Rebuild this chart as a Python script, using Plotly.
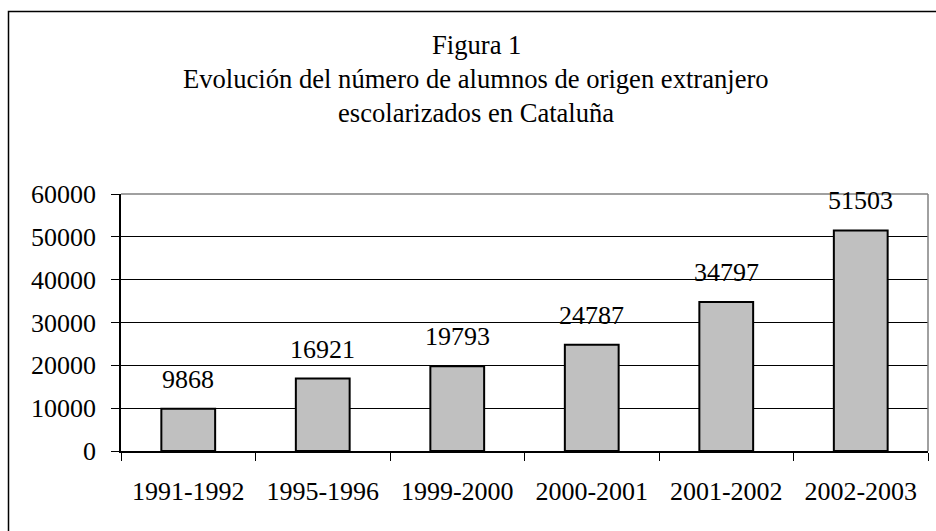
import plotly.graph_objects as go

categories = ["1991-1992", "1995-1996", "1999-2000", "2000-2001", "2001-2002", "2002-2003"]
values = [9868, 16921, 19793, 24787, 34797, 51503]
y_ticks = [0, 10000, 20000, 30000, 40000, 50000, 60000]
title_lines = ["Figura 1",
               "Evolución del número de alumnos de origen extranjero",
               "escolarizados en Cataluña"]

FONT = "Liberation Serif, Times New Roman, serif"
W, H = 936, 531
L, R, T, B = 121, 8, 194, 80
pw, ph = W - L - R, H - T - B

fig = go.Figure()
fig.add_trace(go.Bar(
    x=categories, y=values, width=0.4,
    marker=dict(color="#C0C0C0", line=dict(color="black", width=2)),
    hoverinfo="skip",
))

annotations = []
for c, v in zip(categories, values):
    annotations.append(dict(x=c, y=v, xref="x", yref="y", text=str(v), showarrow=False,
                            yanchor="bottom", yshift=13,
                            font=dict(family=FONT, size=26, color="black")))

title_y_px = [45, 79, 113]
for txt, ypx in zip(title_lines, title_y_px):
    annotations.append(dict(x=(476 - L) / pw, y=(H - B - ypx) / ph, xref="paper", yref="paper",
                            text=txt, showarrow=False, xanchor="center", yanchor="middle",
                            font=dict(family=FONT, size=26.6, color="black")))

shapes = [
    # outer border (cropped at right/bottom)
    dict(type="rect", xref="paper", yref="paper",
         x0=(8.5 - L) / pw, x1=(950 - L) / pw,
         y0=(H - B - 545) / ph, y1=(H - B - 11.5) / ph,
         line=dict(color="black", width=1.5), fillcolor="rgba(0,0,0,0)", layer="below"),
    # plot area gray border top/right
    dict(type="line", xref="paper", yref="paper", x0=0, x1=1, y0=1, y1=1,
         line=dict(color="#808080", width=1.5)),
    dict(type="line", xref="paper", yref="paper", x0=1, x1=1, y0=0, y1=1,
         line=dict(color="#808080", width=1.5)),
]

fig.update_layout(
    width=W, height=H,
    margin=dict(l=L, r=R, t=T, b=B, pad=0),
    paper_bgcolor="white", plot_bgcolor="white",
    showlegend=False,
    bargap=0.6,
    annotations=annotations,
    shapes=shapes,
    font=dict(family=FONT, size=26, color="black"),
)
fig.update_xaxes(
    type="category", showline=True, linecolor="black", linewidth=1.5,
    ticks="outside", tickson="boundaries", ticklen=8, tickcolor="black", tickwidth=1,
    tickfont=dict(family=FONT, size=26, color="black"), ticklabelstandoff=16,
    showgrid=False, zeroline=False,
)
fig.update_yaxes(
    range=[0, 60000], tickvals=y_ticks, ticktext=[str(t) for t in y_ticks],
    showline=True, linecolor="black", linewidth=1.5,
    ticks="outside", ticklen=8, tickcolor="black", tickwidth=1,
    tickfont=dict(family=FONT, size=26, color="black"), ticklabelstandoff=10,
    showgrid=True, gridcolor="#000000", gridwidth=1, zeroline=False,
)

fig.write_html("out.html", config={"displayModeBar": False},
               post_script="document.body.style.margin='0';document.body.style.padding='0';")
